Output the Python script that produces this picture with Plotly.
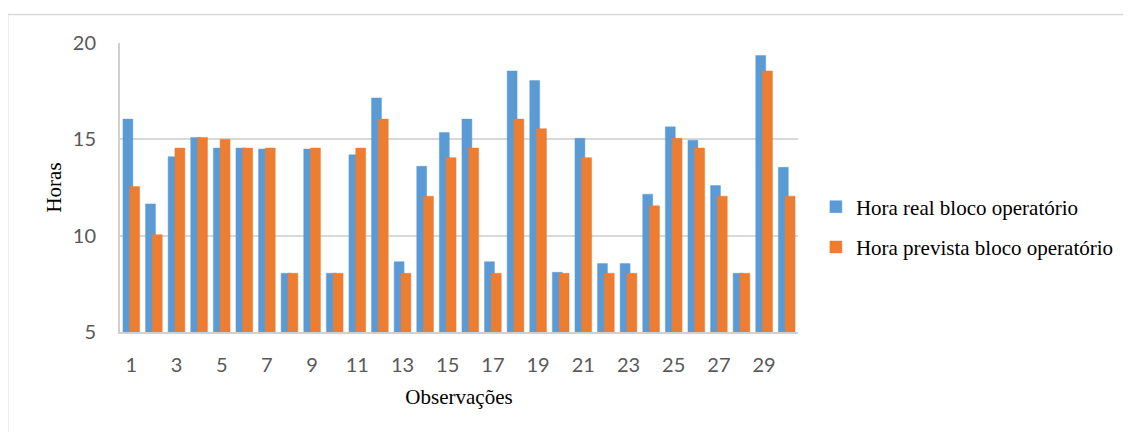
import plotly.graph_objects as go

observacoes = list(range(1, 31))
hora_real = [16.05, 11.65, 14.1, 15.1, 14.55, 14.55, 14.5, 8.05, 14.5, 8.05,
             14.2, 17.15, 8.65, 13.6, 15.35, 16.05, 8.65, 18.55, 18.05, 8.1,
             15.05, 8.55, 8.55, 12.15, 15.65, 14.95, 12.6, 8.05, 19.35, 13.55]
hora_prevista = [12.55, 10.05, 14.55, 15.1, 15.0, 14.55, 14.55, 8.05, 14.55, 8.05,
                 14.55, 16.05, 8.05, 12.05, 14.05, 14.55, 8.05, 16.05, 15.55, 8.05,
                 14.05, 8.05, 8.05, 11.55, 15.05, 14.55, 12.05, 8.05, 18.55, 12.05]
tick_vals = list(range(1, 31, 2))
y_ticks = [5, 10, 15, 20]

OFF = 8  # page body margin
W, H = 1131 - OFF, 432 - OFF
L, R, T, B = 120 - OFF, 802 - OFF, 43 - OFF, 332 - OFF

fig = go.Figure()
fig.add_trace(go.Bar(
    x=observacoes, y=hora_real, name="Hora real bloco operatório",
    marker=dict(color="#5b9bd5", line=dict(color="rgba(91,155,213,0.45)", width=1)),
    width=0.44, offset=-0.37, legendgroup="a",
))
fig.add_trace(go.Bar(
    x=observacoes, y=hora_prevista, name="Hora prevista bloco operatório",
    marker=dict(color="#ed7d31", line=dict(color="rgba(237,125,49,0.45)", width=1)),
    width=0.44, offset=-0.07, legendgroup="b",
))

def px_x(p):
    return (p - OFF - L) / (R - L)

def px_y(p):
    return (B - (p - OFF)) / (B - T)

shapes = [
    dict(type="line", xref="paper", yref="paper", x0=px_x(7), x1=px_x(1140),
         y0=px_y(14.5), y1=px_y(14.5), line=dict(color="#d9d9d9", width=1.5)),
    dict(type="line", xref="paper", yref="paper", x0=px_x(7), x1=px_x(7),
         y0=px_y(14.5), y1=px_y(440), line=dict(color="#d9d9d9", width=1.5)),
]

fig.update_layout(
    width=W, height=H,
    margin=dict(l=L, r=W - R, t=T, b=H - B),
    paper_bgcolor="white", plot_bgcolor="white",
    barmode="overlay",
    shapes=shapes,
    showlegend=True,
    legend=dict(
        x=px_x(820), xanchor="left", y=px_y(227), yanchor="middle",
        font=dict(family="Liberation Serif", size=21, color="#000000"),
        traceorder="grouped", tracegroupgap=10, itemwidth=30,
        bgcolor="rgba(0,0,0,0)",
    ),
    xaxis=dict(
        range=[0.5, 30.5], tickmode="array", tickvals=tick_vals,
        ticktext=[str(v) for v in tick_vals],
        tickfont=dict(family="Lato", size=20, color="#595959"),
        ticks="outside", ticklen=14, tickcolor="rgba(0,0,0,0)",
        showgrid=False, showline=True, linecolor="#d0d0d0", linewidth=2,
        zeroline=False,
        title=dict(text="Observações", standoff=14,
                   font=dict(family="Liberation Serif", size=21, color="#000000")),
    ),
    yaxis=dict(
        range=[5, 20], tickmode="array", tickvals=y_ticks,
        tickfont=dict(family="Lato", size=20, color="#595959"),
        ticks="outside", ticklen=18, tickcolor="rgba(0,0,0,0)",
        showgrid=True, gridcolor="#d9d9d9", gridwidth=2,
        showline=True, linecolor="#d0d0d0", linewidth=2,
        zeroline=False,
        title=dict(text="Horas", standoff=5,
                   font=dict(family="Liberation Serif", size=21, color="#000000")),
    ),
)

fig.write_html("out.html")
